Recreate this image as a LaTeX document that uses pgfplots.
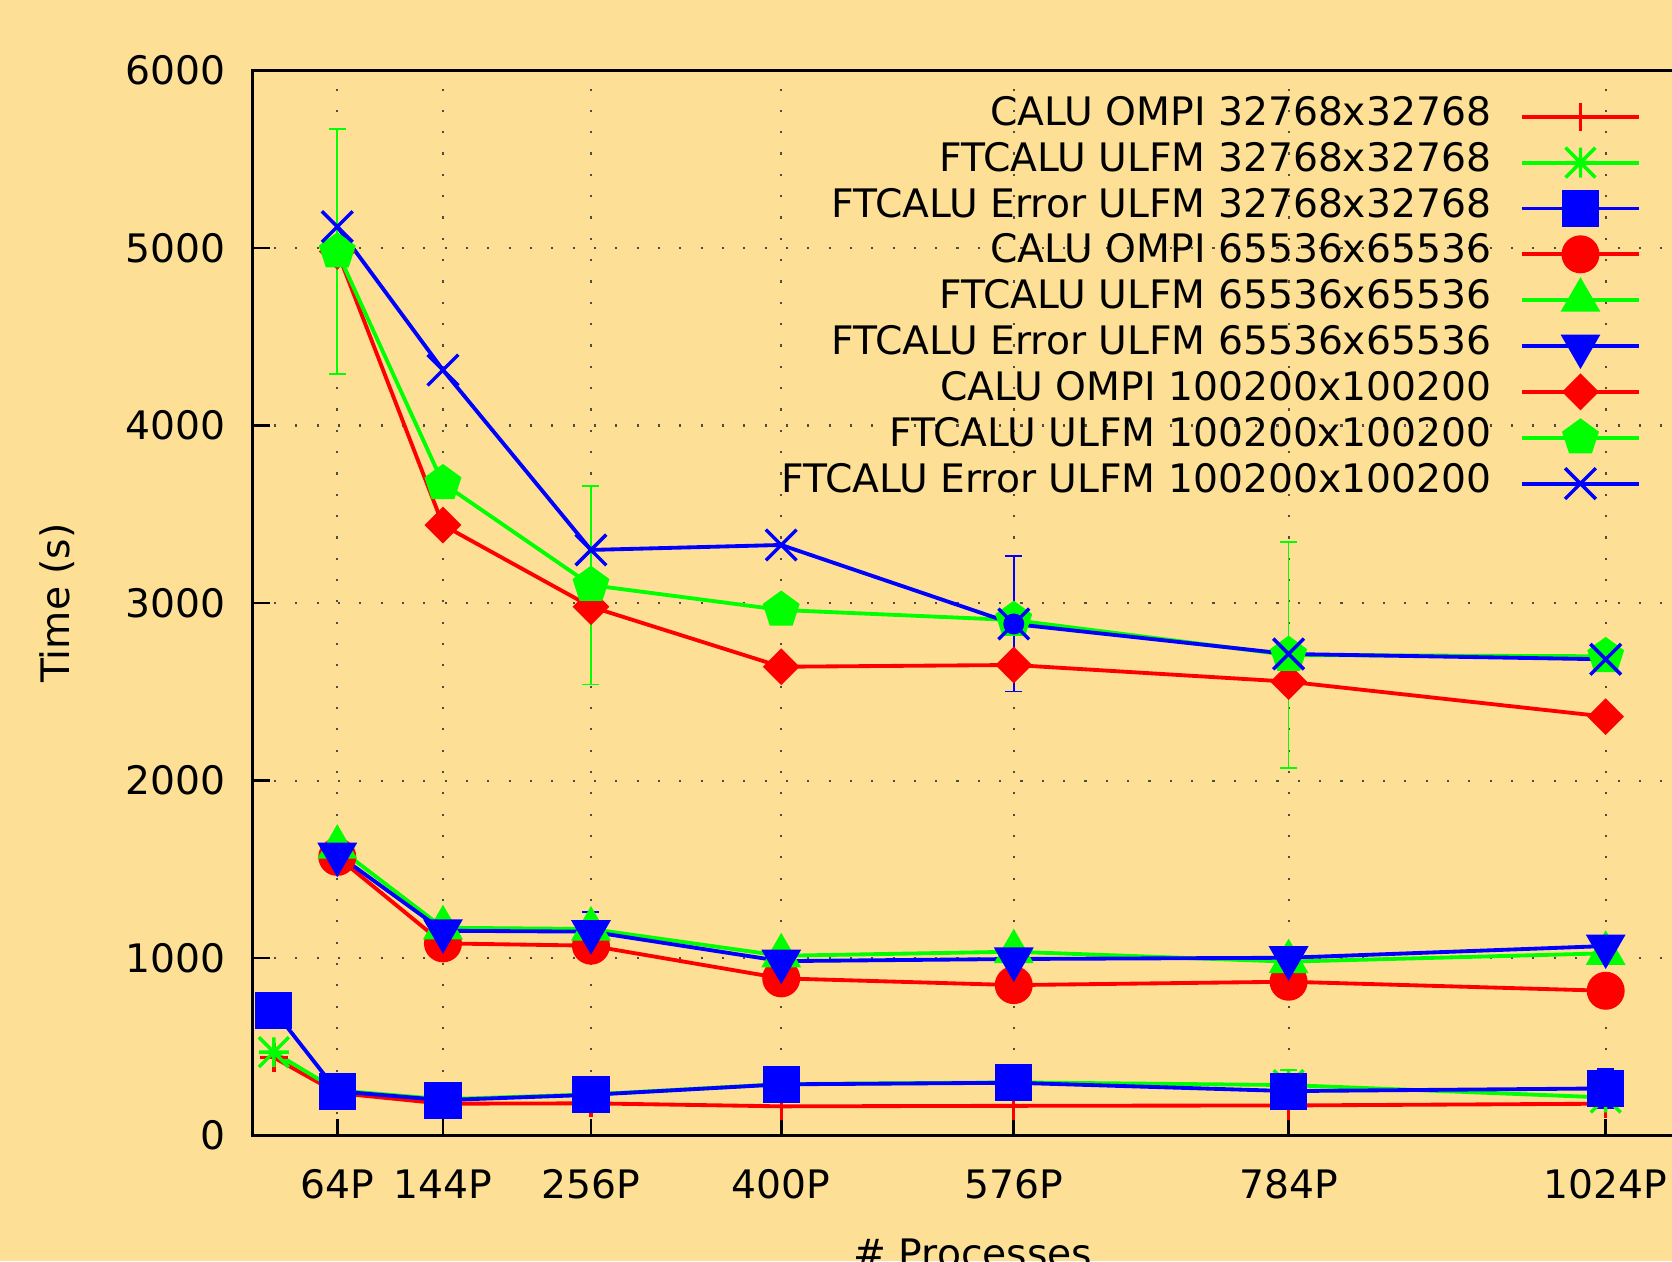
\documentclass[border=0pt]{standalone}
\usepackage{fontspec}
\setmainfont{DejaVu Sans}
\usepackage{pgfplots}
\pgfplotsset{compat=1.18}
\definecolor{bgc}{HTML}{FDE095}
\definecolor{gred}{HTML}{FF0000}
\definecolor{ggreen}{HTML}{00FF00}
\definecolor{gblue}{HTML}{0000FF}
\pgfdeclareplotmark{gpstar}{%
  \pgfpathmoveto{\pgfqpoint{-\pgfplotmarksize}{0pt}}\pgfpathlineto{\pgfqpoint{\pgfplotmarksize}{0pt}}%
  \pgfpathmoveto{\pgfqpoint{0pt}{-\pgfplotmarksize}}\pgfpathlineto{\pgfqpoint{0pt}{\pgfplotmarksize}}%
  \pgfpathmoveto{\pgfqpoint{-\pgfplotmarksize}{-\pgfplotmarksize}}\pgfpathlineto{\pgfqpoint{\pgfplotmarksize}{\pgfplotmarksize}}%
  \pgfpathmoveto{\pgfqpoint{-\pgfplotmarksize}{\pgfplotmarksize}}\pgfpathlineto{\pgfqpoint{\pgfplotmarksize}{-\pgfplotmarksize}}%
  \pgfusepathqstroke}
\pgfdeclareplotmark{gpx}{%
  \pgfpathmoveto{\pgfqpoint{-\pgfplotmarksize}{-\pgfplotmarksize}}\pgfpathlineto{\pgfqpoint{\pgfplotmarksize}{\pgfplotmarksize}}%
  \pgfpathmoveto{\pgfqpoint{-\pgfplotmarksize}{\pgfplotmarksize}}\pgfpathlineto{\pgfqpoint{\pgfplotmarksize}{-\pgfplotmarksize}}%
  \pgfusepathqstroke}
\newcommand{\lfont}{\fontsize{9.2}{11}\selectfont}
\begin{document}
\begin{tikzpicture}
\fill[bgc] (-59.25pt,-29.5pt) rectangle (332.75pt,266.25pt);
\begin{axis}[
  at={(0pt,0pt)}, anchor=south west,
  scale only axis,
  width=337.65pt, height=249.75pt,
  xmin=0, xmax=1090, ymin=0, ymax=6000,
  axis line style={line width=0.6pt, black},
  xtick={64,144,256,400,576,784,1024},
  xticklabels={64P,144P,256P,400P,576P,784P,1024P},
  ytick={0,1000,2000,3000,4000,5000,6000},
  tick pos=left, tick align=inside,
  major tick length=4pt,
  every tick/.style={black, line width=0.6pt},
  /pgf/number format/assume math mode=true,
  /pgf/number format/set thousands separator={},
  tick label style={font=\lfont, inner sep=0pt, black},
  yticklabel style={anchor=east, xshift=-6.25pt},
  xticklabel style={anchor=north, yshift=-7.75pt},
  grid=major,
  major grid style={dash pattern=on 0.5pt off 4.5pt, line width=0.5pt, black!70},
  xlabel={\# Processes}, ylabel={Time (s)},
  every axis x label/.style={at={(axis description cs:0.5,0)}, anchor=north, yshift=-24pt, inner sep=0pt, font=\lfont},
  every axis y label/.style={at={(axis description cs:0,0.5)}, xshift=-45.75pt, rotate=90, anchor=center, inner sep=0pt, font=\lfont},
  legend plot pos=right,
  legend cell align=right,
  legend style={draw=none, fill=none, at={(0.964,0.978)}, anchor=north east, inner sep=0pt, outer sep=0pt,
    row sep=0pt, column sep=6.75pt, font=\lfont,
    nodes={inner sep=0pt, text height=7.4pt, text depth=3.35pt}},
  legend image code/.code={\draw[mark repeat=2,mark phase=2,#1] plot coordinates {(0pt,0pt)(13.75pt,0pt)(27.5pt,0pt)};},
  every axis plot/.append style={line width=0.9pt},
]
% 32768
\addplot[gred, mark=+, mark size=3.3pt, mark options={line width=0.8pt}] coordinates {(16,440) (64,240) (144,180) (256,182) (400,165) (576,168) (784,170) (1024,180)};
\addlegendentry{CALU OMPI 32768x32768}
\addplot[ggreen, mark=gpstar, mark size=3.5pt, mark options={line width=0.8pt}] coordinates {(16,470) (64,255) (144,205) (256,232) (400,290) (576,300) (784,285) (1024,215)};
\addlegendentry{FTCALU ULFM 32768x32768}
\addplot[forget plot, only marks, mark=none, ggreen, error bars/.cd, y dir=both, y explicit, error bar style={line width=0.4pt, ggreen}, error mark options={rotate=90, mark size=2pt, line width=0.4pt, ggreen}] coordinates {(784,285) +- (0,85)};
\addplot[gblue, mark=square*, mark size=3.9pt] coordinates {(16,707) (64,250) (144,200) (256,230) (400,289) (576,298) (784,251) (1024,266)};
\addlegendentry{FTCALU Error ULFM 32768x32768}
\addplot[forget plot, only marks, mark=none, gblue, error bars/.cd, y dir=both, y explicit, error bar style={line width=0.4pt, gblue}, error mark options={rotate=90, mark size=2pt, line width=0.4pt, gblue}] coordinates {(1024,266) +- (0,110)};
% 65536
\addplot[gred, mark=*, mark size=4pt] coordinates {(64,1570) (144,1083) (256,1070) (400,886) (576,848) (784,867) (1024,816)};
\addlegendentry{CALU OMPI 65536x65536}
\addplot[ggreen, mark=triangle*, mark size=4.5pt] coordinates {(64,1625) (144,1171) (256,1164) (400,1013) (576,1036) (784,980) (1024,1027)};
\addlegendentry{FTCALU ULFM 65536x65536}
\addplot[gblue, mark=triangle*, mark size=4.5pt, mark options={rotate=180}] coordinates {(64,1585) (144,1154) (256,1149) (400,983) (576,995) (784,1002) (1024,1068)};
\addlegendentry{FTCALU Error ULFM 65536x65536}
\addplot[forget plot, only marks, mark=none, gblue, error bars/.cd, y dir=both, y explicit, error bar style={line width=0.4pt, gblue}, error mark options={rotate=90, mark size=2pt, line width=0.4pt, gblue}] coordinates {(256,1149) +- (0,110)};
% 100200
\addplot[gred, mark=square*, mark size=2.6pt, mark options={rotate=45}] coordinates {(64,4980) (144,3439) (256,2979) (400,2641) (576,2651) (784,2557) (1024,2360)};
\addlegendentry{CALU OMPI 100200x100200}
\addplot[ggreen, mark=pentagon*, mark size=4pt] coordinates {(64,4979) (144,3674) (256,3101) (400,2961) (576,2904) (784,2707) (1024,2700)};
\addlegendentry{FTCALU ULFM 100200x100200}
\addplot[forget plot, only marks, mark=none, ggreen, error bars/.cd, y dir=both, y explicit, error bar style={line width=0.4pt, ggreen}, error mark options={rotate=90, mark size=2pt, line width=0.4pt, ggreen}] coordinates {(64,4979) +- (0,690) (256,3101) +- (0,560) (784,2707) +- (0,638)};
\addplot[gblue, mark=gpx, mark size=3.6pt, mark options={line width=0.8pt}] coordinates {(64,5120) (144,4312) (256,3299) (400,3327) (576,2882) (784,2713) (1024,2683)};
\addlegendentry{FTCALU Error ULFM 100200x100200}
\addplot[forget plot, only marks, mark=none, gblue, error bars/.cd, y dir=both, y explicit, error bar style={line width=0.4pt, gblue}, error mark options={rotate=90, mark size=2pt, line width=0.4pt, gblue}] coordinates {(576,2882) +- (0,381)};
\end{axis}
\pgfresetboundingbox
\path[use as bounding box] (-59.25pt,-29.5pt) rectangle (332.75pt,266.25pt);
\end{tikzpicture}
\end{document}
